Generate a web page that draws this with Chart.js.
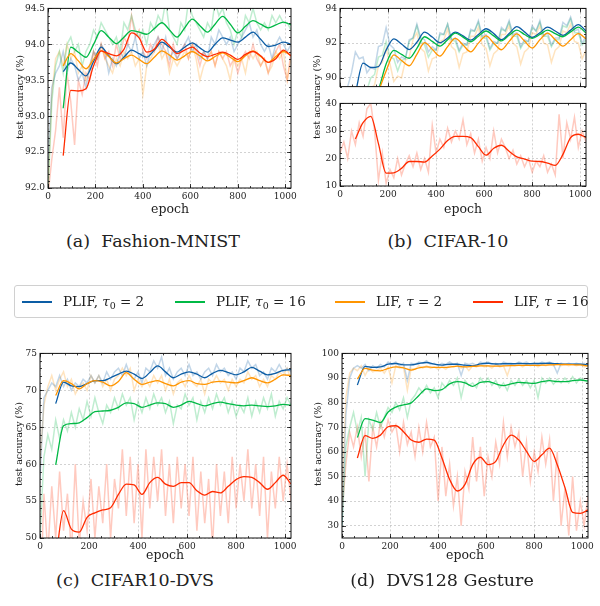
<!DOCTYPE html>
<html>
<head>
<meta charset="utf-8">
<script src="https://cdn.jsdelivr.net/npm/chart.js@4.4.1/dist/chart.umd.min.js"></script>
<style>
body { margin: 0; width: 600px; height: 606px; position: relative; background: #fff; font-family: "DejaVu Serif", "Liberation Serif", serif; color: #222; overflow: hidden; }
canvas { position: absolute; }
.t { position: absolute; white-space: nowrap; transform: translate(-50%, -50%); }
.yl { position: absolute; white-space: nowrap; font-size: 9.5px; transform: translate(-50%, -50%) rotate(-90deg); }
.xl { font-size: 12.5px; }
.cap { font-size: 17.5px; }
#legend { position: absolute; left: 14px; top: 285px; width: 572px; height: 31px; border: 1px solid #d0d0d0; border-radius: 3px; }
#legend .ln { position: absolute; top: 15px; width: 30px; height: 1.5px; }
#legend .lt { position: absolute; top: 6px; font-size: 13.5px; white-space: nowrap; line-height: 18px; }
sub { font-size: 70%; vertical-align: -3px; line-height: 0; }
</style>
</head>
<body>

<canvas id="chA" width="300" height="202" style="left:0;top:0"></canvas>
<canvas id="chB1" width="300" height="95" style="left:300px;top:0"></canvas>
<canvas id="chB2" width="300" height="107" style="left:300px;top:95px"></canvas>
<canvas id="chC" width="300" height="207" style="left:0;top:345px"></canvas>
<canvas id="chD" width="300" height="207" style="left:300px;top:345px"></canvas>

<div class="yl" style="left:19px;top:97px">test accuracy (%)</div>
<div class="yl" style="left:316px;top:97px">test accuracy (%)</div>
<div class="yl" style="left:18px;top:444px">test accuracy (%)</div>
<div class="yl" style="left:317px;top:444px">test accuracy (%)</div>

<div class="t xl" style="left:170px;top:208px">epoch</div>
<div class="t xl" style="left:463px;top:208px">epoch</div>
<div class="t xl" style="left:165px;top:554px">epoch</div>
<div class="t xl" style="left:465px;top:554px">epoch</div>

<div class="t cap" style="left:153px;top:241px">(a)&nbsp; Fashion-MNIST</div>
<div class="t cap" style="left:448px;top:241px">(b)&nbsp; CIFAR-10</div>
<div class="t cap" style="left:135px;top:580px">(c)&nbsp; CIFAR10-DVS</div>
<div class="t cap" style="left:442px;top:580px">(d)&nbsp; DVS128 Gesture</div>

<div id="legend">
  <span class="ln" style="left:7px;background:#0C5DA5"></span><span class="lt" style="left:48px">PLIF, <i>τ</i><sub>0</sub> = 2</span>
  <span class="ln" style="left:160px;background:#00B945"></span><span class="lt" style="left:201px">PLIF, <i>τ</i><sub>0</sub> = 16</span>
  <span class="ln" style="left:320px;background:#FF9500"></span><span class="lt" style="left:361px">LIF, <i>τ</i> = 2</span>
  <span class="ln" style="left:458px;background:#FF2C00"></span><span class="lt" style="left:499px">LIF, <i>τ</i> = 16</span>
</div>

<script>
// epochs of the raw test-accuracy curves and of the smoothed curves
var EPOCH_RAW = [0,16,32,48,64,80,96,112,128,144,160,176,192,208,224,240,256,272,288,304,320,336,352,368,384,400,416,432,448,464,480,496,512,528,544,560,576,592,608,624,640,656,672,688,704,720,736,752,768,784,800,816,832,848,864,880,896,912,928,944,960,976,992,1008,1024];
var EPOCH_SMOOTH = [64,96,128,160,192,224,256,288,320,352,384,416,448,480,512,544,576,608,640,672,704,736,768,800,832,864,896,928,960,992,1024];

// tick labels
var X_TICKS = [0, 200, 400, 600, 800, 1000];
var A_YTICKS = [92.0, 92.5, 93.0, 93.5, 94.0, 94.5];
var B1_YTICKS = [90, 92, 94];
var B2_YTICKS = [10, 20, 30, 40];
var C_YTICKS = [50, 55, 60, 65, 70, 75];
var D_YTICKS = [30, 40, 50, 60, 70, 80, 90, 100];

// (a) Fashion-MNIST
var A_PLIF2 = [93.62,93.74,93.65,93.56,93.76,93.96,93.84,93.73,93.82,93.92,93.87,93.82,93.92,94.03,93.96,93.89,93.96,94.02,93.95,93.89,94.0,94.09,94.06,94.03,94.1,94.17,94.07,93.97,93.99,94.03,94.0];
var A_PLIF16 = [93.11,93.96,93.89,93.82,94.0,94.19,94.1,94.01,94.1,94.19,94.17,94.14,94.22,94.30,94.2,94.10,94.23,94.35,94.26,94.17,94.28,94.39,94.28,94.16,94.25,94.33,94.28,94.23,94.27,94.31,94.27];
var A_LIF2 = [93.70,93.87,93.77,93.66,93.79,93.91,93.83,93.74,93.8,93.85,93.79,93.73,93.82,93.91,93.85,93.78,93.84,93.90,93.84,93.77,93.83,93.88,93.82,93.76,93.84,93.91,93.83,93.75,93.83,93.90,93.84];
var A_LIF16 = [92.45,93.36,93.35,93.38,93.70,93.91,93.87,93.84,93.93,94.16,94.09,93.89,93.93,94.07,93.98,93.87,93.92,93.96,93.88,93.83,93.86,93.89,93.85,93.79,93.86,93.90,93.84,93.75,93.80,93.92,93.84];
var A_RAW_PLIF2 = [92.3,93.4,93.6,93.7,93.9,93.6,93.8,93.7,93.5,93.6,93.4,93.7,93.9,93.8,94.0,93.9,93.6,93.8,93.7,93.9,93.8,94.0,93.9,94.1,93.8,93.9,93.7,93.9,94.0,94.1,93.9,94.1,93.8,93.9,93.8,93.9,94.0,94.1,93.9,94.0,93.8,93.9,93.8,94.1,94.0,94.2,94.1,94.0,94.1,93.9,94.0,94.1,94.2,94.3,94.1,94.2,94.0,93.9,94.0,93.8,94.0,94.1,94.0,93.9,94.0];
var A_RAW_PLIF16 = [91.9,93.2,93.7,93.9,93.6,94.0,94.1,93.9,94.0,93.7,93.9,94.0,94.2,94.1,94.3,94.2,94.1,94.0,94.1,93.9,94.3,94.2,94.4,94.2,94.1,94.2,94.0,94.3,94.2,94.4,94.3,94.6,94.2,94.1,94.0,94.3,94.2,94.6,94.4,94.3,94.2,94.1,94.3,94.2,94.6,94.4,94.5,94.3,94.2,94.0,94.2,94.1,94.4,94.3,94.5,94.3,94.2,94.3,94.2,94.4,94.3,94.4,94.3,94.3,94.2];
var A_RAW_LIF2 = [92.0,93.3,93.8,93.9,93.7,94.0,93.8,93.9,93.6,93.7,93.5,93.7,93.9,93.8,94.0,93.8,93.7,93.6,93.8,93.7,93.9,93.8,93.9,93.7,93.8,93.3,93.7,93.8,93.9,94.0,93.8,93.9,93.6,93.8,93.7,93.8,93.9,93.8,94.0,93.8,93.5,93.7,93.8,93.9,93.7,93.9,93.8,93.7,93.5,93.8,93.7,93.8,93.6,93.9,93.8,93.9,93.7,93.8,93.6,93.7,93.9,93.8,93.9,93.5,93.8];
var A_RAW_LIF16 = [91.9,92.4,92.8,93.4,92.7,93.6,93.2,92.6,93.5,93.3,93.6,93.5,93.9,93.7,94.0,93.8,93.9,93.7,94.0,93.8,94.1,94.0,94.4,94.1,94.2,93.9,93.8,94.0,93.9,94.1,94.0,93.9,93.7,94.0,93.8,93.9,94.0,93.8,94.0,93.9,93.7,93.9,93.8,93.9,93.7,93.9,93.8,93.9,93.7,93.8,93.6,93.8,93.9,93.8,94.0,93.8,93.7,93.8,93.6,93.8,93.9,94.0,93.7,93.5,93.9];

// (b) CIFAR-10
var B_PLIF2 = [89.1,90.85,90.6,90.65,91.6,92.25,91.95,91.63,92.05,92.63,92.35,92.03,92.3,92.63,92.42,92.17,92.5,92.83,92.55,92.2,92.55,92.95,92.65,92.33,92.6,92.92,92.7,92.45,92.75,93.07,92.7];
var B_PLIF16 = [86.5,87.5,88.3,89.3,90.8,91.58,91.35,91.13,91.7,92.37,92.1,91.83,92.2,92.58,92.35,92.08,92.4,92.7,92.42,92.13,92.45,92.75,92.5,92.28,92.5,92.75,92.55,92.37,92.65,92.92,92.58];
var B_LIF2 = [86.0,87.0,88.0,89.2,90.4,91.33,91.0,90.7,91.35,92.03,91.65,91.25,91.8,92.28,91.9,91.5,92.0,92.42,92.0,91.62,92.1,92.53,92.12,91.72,92.2,92.58,92.2,91.83,92.2,92.55,92.25];
var B_LIF16 = [27.1,33.0,35.3,25.4,14.7,14.8,16.4,18.9,18.9,18.7,20.9,23.4,26.5,28.0,28.0,27.6,24.3,21.2,23.7,24.8,22.6,20.6,19.8,19.0,18.9,18.3,17.5,21.5,27.6,28.8,27.6];
var B_RAW_PLIF2 = [86.0,87.5,89.5,90.3,91.5,91.1,91.2,90.3,90.6,90.5,91.8,91.9,92.9,91.9,91.7,90.9,91.2,91.1,92.2,92.3,93.1,92.3,92.2,91.5,91.8,91.6,92.6,92.5,93.1,92.2,92.3,91.6,92.0,91.9,92.8,92.7,93.3,92.4,92.5,91.7,92.1,92.0,92.9,92.7,93.3,92.5,92.6,91.8,92.2,92.1,93.0,92.7,93.3,92.4,92.6,91.9,92.3,92.3,93.2,93.0,93.5,92.7,92.8,92.0,92.4];
var B_RAW_PLIF16 = [85.0,86.0,87.0,87.5,88.0,88.5,89.0,89.3,90.0,90.2,91.2,91.3,92.1,91.2,91.1,90.4,91.0,91.1,92.1,92.3,93.0,92.1,91.9,91.2,91.6,91.6,92.5,92.5,93.1,92.2,92.1,91.5,91.9,91.9,92.7,92.7,93.2,92.3,92.3,91.6,92.0,92.0,92.8,92.7,93.2,92.4,92.4,91.7,92.1,92.1,92.9,92.7,93.2,92.4,92.4,91.8,92.2,92.2,93.0,92.9,93.4,92.6,92.6,91.9,92.2];
var B_RAW_LIF2 = [84.0,85.0,86.0,86.5,87.0,87.5,88.0,88.6,89.4,89.6,90.7,90.9,91.7,90.8,89.8,90.1,90.0,91.0,91.2,92.2,92.6,91.7,91.5,90.4,91.1,91.2,92.1,92.2,92.8,91.8,91.6,90.6,91.4,91.5,92.4,92.4,92.9,91.9,91.7,90.7,91.4,91.6,92.5,92.5,93.0,92.0,91.8,90.8,91.5,91.7,92.6,92.5,93.0,92.0,91.9,90.9,91.6,91.8,92.7,92.6,93.1,92.1,92.0,91.1,91.6];
var B_RAW_LIF16 = [22,26,20,30,25,33,28,38,40,30,12,22,11,16,13,20,14,18,21,17,22,16,20,15,32,22,27,24,31,26,30,27,34,25,29,22,27,19,24,20,30,22,27,24,20,23,18,21,17,20,15,19,17,21,15,18,14,36,20,33,27,35,24,30,26];

// (c) CIFAR10-DVS
var C_PLIF2 = [68.2,71.1,70.6,70.5,70.9,71.3,71.3,71.7,72.2,72.6,72.2,71.6,72.4,73.3,72.5,71.7,72.2,72.5,72.2,71.7,72.3,72.7,72.4,72.1,72.5,73.1,72.6,72.1,72.3,72.7,72.8];
var C_PLIF16 = [59.9,65.2,65.5,65.6,66.3,67.1,67.2,67.3,67.7,68.3,68.2,67.7,68.0,68.3,68.2,67.7,68.0,68.5,68.2,67.9,68.2,68.4,68.2,68.0,67.9,68.0,67.9,67.8,67.9,68.1,68.0];
var C_LIF2 = [69.3,71.3,70.9,70.2,70.9,71.3,71.1,70.6,71.2,72.4,71.5,70.8,71.1,71.3,70.9,70.6,71.1,71.3,70.9,70.8,71.1,71.2,71.1,71.0,71.3,71.7,71.3,71.0,71.5,72.1,72.0];
var C_LIF16 = [47.0,53.7,51.2,50.8,52.8,53.4,53.8,54.1,55.9,57.3,57.2,55.9,57.5,58.2,57.3,57.0,57.5,57.5,56.4,55.8,56.3,56.1,57.0,57.9,58.3,58.2,57.5,56.6,57.5,58.5,57.3];
var C_RAW_PLIF2 = [58,69,70,71,70.5,72,70.5,71.5,70,71,70.5,71.5,71,72,71,72,71,72.5,71.5,72.5,73,72,73.5,72,71.5,72.5,71,73,72.5,74,73,74.5,72,73,71.5,72.5,73,72,73.5,72,72.5,71.5,72.5,73,72,73.5,72.5,73,72,72.5,71.5,73,72.5,74,73,73.5,72,72.5,71.5,73,72.5,73.5,72.5,73,72.5];
var C_RAW_PLIF16 = [50,61,64,62,66,63.5,66,64.5,67,65,67.5,66,68.5,66.5,69,67,65.5,68,67,69,67.5,69.5,68,69,66,68.5,67,69,67.5,69.5,68,69,67,68.5,65.5,68,67.5,69.5,68,69,66,68.5,67,69,67.5,69.5,68,69,67,68.5,66.5,68,67,69,66.5,68.5,67,69,67.5,69.5,66.5,68.5,67.5,69,68];
var C_RAW_LIF2 = [60,68,70.5,72,70,71.5,72.5,70.5,71.5,69.5,70.5,71,70,72,71,72,70.5,71.5,70,71.5,72,73,72,73,70,71.5,70.5,71.5,70.5,72,71,72,70,71.5,69.5,71,71.5,70.5,72,71,70.5,71.5,69.5,71.5,71,72,71,71.5,70,71.5,70.5,71.5,71,72.5,71.5,72,70.5,71.5,70.5,72,71.5,72.5,72,73,71.5];
var C_RAW_LIF16 = [40,56,48,57,50,59,51,56,48,60,49,55,51,58,50,57,52,60,50,58,54,62,53,61,52,60,50,62,54,61,55,62,53,60,52,61,54,60,53,61,51,59,52,58,49,60,53,59,52,61,54,60,55,62,54,60,53,61,50,59,54,61,55,60,55];

// (d) DVS128 Gesture
var D_PLIF2 = [87.2,94.7,94.3,94.5,95.6,95.9,95.3,95.3,95.9,96.3,95.6,95.2,95.6,95.6,95.2,94.9,95.7,96.0,95.7,95.8,95.8,95.9,95.8,95.9,95.9,96.0,95.8,95.6,95.6,95.6,95.3];
var D_PLIF16 = [65.8,73.5,72.9,71.9,76.2,78.2,79.1,79.9,82.9,85.6,84.9,85.3,87.6,88.5,88.0,86.6,88.2,88.5,87.6,86.9,87.6,88.2,88.0,87.8,88.5,88.9,88.5,88.5,88.9,89.2,88.8];
var D_LIF2 = [89.6,93.9,93.2,92.9,93.9,94.5,94.1,93.2,94.1,94.5,94.3,94.3,94.4,94.8,94.5,94.7,94.9,94.9,94.8,94.9,95.0,95.1,95.1,95.1,95.2,95.3,95.4,95.5,95.4,95.3,94.9];
var D_LIF16 = [57.5,66.6,65.5,66.8,70.2,70.6,68.2,64.8,63.9,65.2,64.8,57.5,48.8,44.1,46.8,54.8,57.8,54.8,56.1,62.8,66.8,64.8,60.2,56.1,58.8,61.5,54.8,45.5,35.4,35.0,36.4];
var D_RAW_PLIF2 = [30,75,90,94,95,94,95.5,93,95,94,95.5,94.5,96.5,95.5,96.5,95,96,89,96,95.5,96.5,96,97,95.5,96,95,96,95.5,96.5,95.5,96,91,96,95.5,96,95,96.5,96,96.5,95.5,96,95,96.5,96,96,95.5,96.5,96,96.5,95.5,96,95.5,96.5,96,96.5,95.5,92,96,95.5,96,95.5,96,95.5,96,95];
var D_RAW_PLIF16 = [30,62,70,76,68,74,50,73,69,76,70,74,78,76,80,77,82,74,81,83,86,84,87,84,86,82,88,86,89,87,90,82,89,87,88,86,90,88,90,87,89,86,88,85,89,87,89.5,87,89,86,89,82,90,88,90,87.5,89.5,88,90,88,90.5,88,90,89,88];
var D_RAW_LIF2 = [40,82,92,94,93,95,91,94,92.5,93,94,92,94.5,88,95,94,94.5,85,94,93.5,95,94,95,94,94.5,93.5,94.5,93.5,95,94.5,95,94,95,93,95,94.5,95.5,94.5,95,94,95.5,94.5,95,91,95.5,95,95.5,94.5,95.5,95,95.5,94.5,95.5,95,95.5,95,96,95,95.5,95,95.5,95,95.5,94.5,95];
var D_RAW_LIF16 = [35,55,68,62,70,58,68,48,70,62,72,66,73,68,71,60,72,63,68,58,70,60,72,62,66,40,62,42,55,38,50,30,52,45,66,48,62,42,58,50,64,55,72,58,70,62,68,50,64,48,60,52,66,55,65,40,60,30,45,26,50,28,40,30,42];

var COL_PLIF2 = '#0C5DA5', COL_PLIF16 = '#00B945', COL_LIF2 = '#FF9500', COL_LIF16 = '#FF2C00';

Chart.defaults.font.family = '"DejaVu Serif", "Liberation Serif", serif';
Chart.defaults.font.size = 9;
Chart.defaults.color = '#222';

function zip(xs, ys) {
    var out = [];
    for (var i = 0; i < Math.min(xs.length, ys.length); i++) out.push({x: xs[i], y: ys[i]});
    return out;
}

function fade(hex, a) {
    var n = parseInt(hex.slice(1), 16);
    return 'rgba(' + (n >> 16) + ',' + ((n >> 8) & 255) + ',' + (n & 255) + ',' + a + ')';
}

function minorValues(scale, step) {
    var vals = [];
    for (var k = Math.ceil(scale.min / step - 1e-6); k <= Math.floor(scale.max / step + 1e-6); k++) vals.push(k * step);
    return vals;
}

// inward ticks on all four sides plus the black frame
var inTicks = {
    id: 'inTicks',
    afterDraw: function (chart, args, o) {
        var ctx = chart.ctx, a = chart.chartArea, x = chart.scales.x, y = chart.scales.y;
        ctx.save();
        ctx.strokeStyle = '#111';
        ctx.lineWidth = 0.8;
        ctx.beginPath();
        function mark(scale, vals, len) {
            vals.forEach(function (v) {
                var p = Math.round(scale.getPixelForValue(v)) + 0.5;
                if (scale.isHorizontal()) {
                    ctx.moveTo(p, a.bottom); ctx.lineTo(p, a.bottom - len);
                    ctx.moveTo(p, a.top); ctx.lineTo(p, a.top + len);
                } else {
                    ctx.moveTo(a.left, p); ctx.lineTo(a.left + len, p);
                    ctx.moveTo(a.right, p); ctx.lineTo(a.right - len, p);
                }
            });
        }
        mark(x, x.ticks.map(function (t) { return t.value; }), 4);
        mark(x, minorValues(x, o.xMinor), 2);
        mark(y, y.ticks.map(function (t) { return t.value; }), 4);
        mark(y, minorValues(y, o.yMinor), 2);
        ctx.stroke();
        ctx.lineWidth = 1;
        ctx.strokeRect(a.left, a.top, a.right - a.left, a.bottom - a.top);
        ctx.restore();
    }
};

function fixedTicks(values) {
    return function (sc) { sc.ticks = values.map(function (v) { return { value: v }; }); };
}

function panel(id, p) {
    var datasets = [];
    p.series.forEach(function (s, i) {
        datasets.push({
            data: zip(EPOCH_SMOOTH, s[0]), borderColor: s[2], borderWidth: 1.3,
            pointRadius: 0, cubicInterpolationMode: 'monotone', order: 4 - i, clip: 0
        });
        datasets.push({
            data: zip(EPOCH_RAW, s[1]), borderColor: fade(s[2], 0.25), borderWidth: 1.5,
            pointRadius: 0, tension: 0, order: 10 + i, clip: 0
        });
    });
    var grid = { color: '#b4b4b4', lineWidth: 0.6, drawTicks: false };
    return new Chart(document.getElementById(id), {
        type: 'line',
        data: { datasets: datasets },
        plugins: [inTicks],
        options: {
            responsive: false,
            animation: false,
            events: [],
            layout: { padding: p.pad },
            plugins: { legend: { display: false }, tooltip: { enabled: false }, inTicks: { xMinor: 50, yMinor: p.yMinor } },
            scales: {
                x: {
                    type: 'linear', min: 0, max: 1024,
                    grid: grid, border: { display: false, dash: [2, 2] },
                    afterBuildTicks: fixedTicks(X_TICKS),
                    ticks: { display: p.xLabels, maxRotation: 0, autoSkip: false, padding: 3, callback: function (v) { return String(v); } },
                    afterFit: function (sc) { sc.height = p.xh; }
                },
                y: {
                    min: p.ymin, max: p.ymax,
                    grid: grid, border: { display: false, dash: [2, 2] },
                    afterBuildTicks: fixedTicks(p.yticks),
                    ticks: { padding: 3, autoSkip: false, callback: p.fmt },
                    afterFit: function (sc) { sc.width = p.yw; }
                }
            }
        }
    });
}

var oneDec = function (v) { return v.toFixed(1); };
var plain = function (v) { return String(v); };

panel('chA', {
    ymin: 92, ymax: 94.5, yticks: A_YTICKS, yMinor: 0.1, fmt: oneDec, xLabels: true,
    pad: { top: 5, right: 9, left: 0, bottom: 0 }, yw: 48, xh: 14,
    series: [[A_PLIF2, A_RAW_PLIF2, COL_PLIF2], [A_PLIF16, A_RAW_PLIF16, COL_PLIF16],
             [A_LIF2, A_RAW_LIF2, COL_LIF2], [A_LIF16, A_RAW_LIF16, COL_LIF16]]
});
panel('chB1', {
    ymin: 89.5, ymax: 94, yticks: B1_YTICKS, yMinor: 0.5, fmt: plain, xLabels: false,
    pad: { top: 3, right: 14, left: 0, bottom: 2 }, yw: 40, xh: 0,
    series: [[B_PLIF2, B_RAW_PLIF2, COL_PLIF2], [B_PLIF16, B_RAW_PLIF16, COL_PLIF16],
             [B_LIF2, B_RAW_LIF2, COL_LIF2]]
});
panel('chB2', {
    ymin: 10, ymax: 40, yticks: B2_YTICKS, yMinor: 2, fmt: plain, xLabels: true,
    pad: { top: 2, right: 14, left: 0, bottom: 0 }, yw: 40, xh: 16,
    series: [[B_LIF16, B_RAW_LIF16, COL_LIF16]]
});
panel('chC', {
    ymin: 50, ymax: 75, yticks: C_YTICKS, yMinor: 1, fmt: plain, xLabels: true,
    pad: { top: 6, right: 9, left: 0, bottom: 0 }, yw: 40, xh: 14,
    series: [[C_PLIF2, C_RAW_PLIF2, COL_PLIF2], [C_PLIF16, C_RAW_PLIF16, COL_PLIF16],
             [C_LIF2, C_RAW_LIF2, COL_LIF2], [C_LIF16, C_RAW_LIF16, COL_LIF16]]
});
panel('chD', {
    ymin: 25, ymax: 100, yticks: D_YTICKS, yMinor: 2, fmt: plain, xLabels: true,
    pad: { top: 6, right: 12, left: 0, bottom: 0 }, yw: 42, xh: 14,
    series: [[D_PLIF2, D_RAW_PLIF2, COL_PLIF2], [D_PLIF16, D_RAW_PLIF16, COL_PLIF16],
             [D_LIF2, D_RAW_LIF2, COL_LIF2], [D_LIF16, D_RAW_LIF16, COL_LIF16]]
});
</script>
</body>
</html>
